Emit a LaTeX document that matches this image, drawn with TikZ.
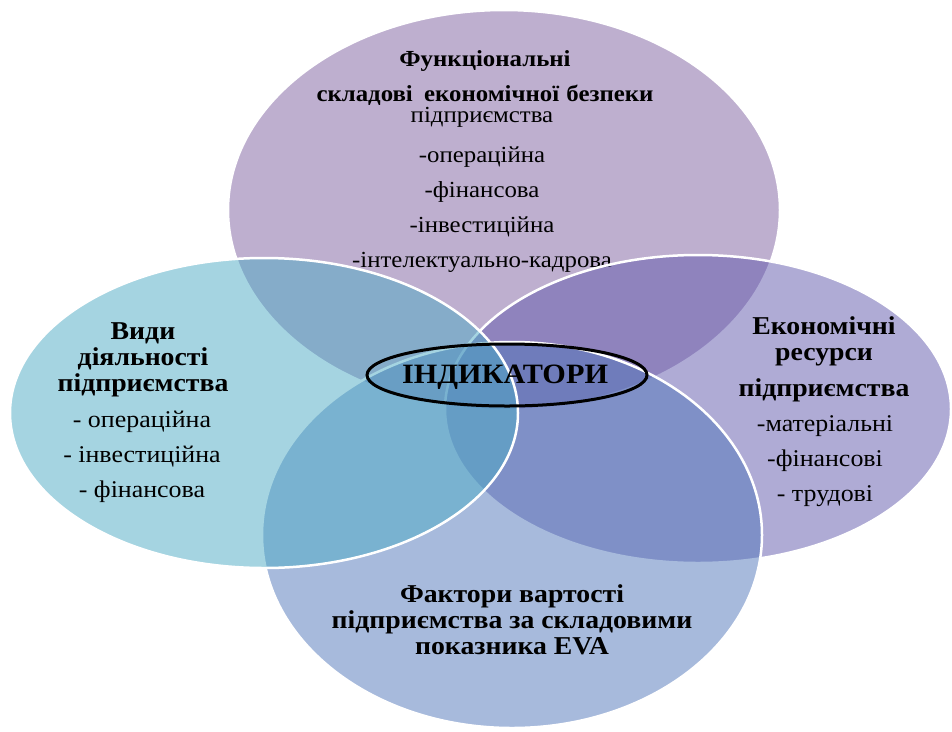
\documentclass[tikz,border=0pt]{standalone}
\usepackage{fontspec}
\setmainfont[FakeStretch=1.08]{Liberation Serif}
\definecolor{topfill}{RGB}{127,97,161}
\definecolor{leftfill}{RGB}{77,171,197}
\definecolor{rightfill}{RGB}{97,89,173}
\definecolor{botfill}{RGB}{81,119,187}
\tikzset{
 venn/.style={fill opacity=0.5,draw=white,line width=2.5pt},
 headtext/.style={font=\fontsize{25.7}{26}\selectfont\bfseries,align=center,inner sep=0pt},
 listtext/.style={font=\fontsize{24}{35}\selectfont,align=center,inner sep=0pt}
}
\begin{document}
\begin{tikzpicture}[x=1pt,y=-1pt]
 \useasboundingbox[fill=white](0,0) rectangle (952,731);
 \draw[venn,fill=topfill](504,210) ellipse [x radius=276pt,y radius=200pt];
 \node[headtext,font=\fontsize{23}{35}\selectfont\bfseries] (topHead) at (485,78) {Функціональні\hspace{12pt}\\складові\hspace{5pt} економічної\hspace{1pt} безпеки};
 \node[listtext,font=\fontsize{23}{35}\selectfont] (topList) at (482,190) {підприємства\\[5pt]-операційна\\-фінансова\\-інвестиційна\\-інтелектуально-кадрова};
 \draw[venn,fill=rightfill](698,409) ellipse [x radius=253pt,y radius=154pt];
 \node[headtext] (rightHead) at (824,359) {Економічні\\ресурси\\[10pt]підприємства};
 \node[listtext] (rightList) at (825,461) {-матеріальні\\-фінансові\\- трудові};
 \draw[venn,fill=botfill](512,535) ellipse [x radius=250pt,y radius=193pt];
 \node[headtext] (botHead) at (512,620) {Фактори вартості\\підприємства за складовими\\показника EVA};
 \draw[venn,fill=leftfill](264,413) ellipse [x radius=254pt,y radius=155pt];
 \node[headtext] (leftHead) at (143,360) {Види\\діяльності\\підприємства};
 \node[listtext] (leftList) at (142,457) {- операційна\\- інвестиційна\\- фінансова};
 \draw[line width=3pt](507,375) ellipse [x radius=140pt,y radius=31pt];
 \node[font=\fontsize{28}{30}\selectfont\bfseries,inner sep=0pt,anchor=base] (indicators) at (505,383) {ІНДИКАТОРИ};
\end{tikzpicture}
\end{document}
